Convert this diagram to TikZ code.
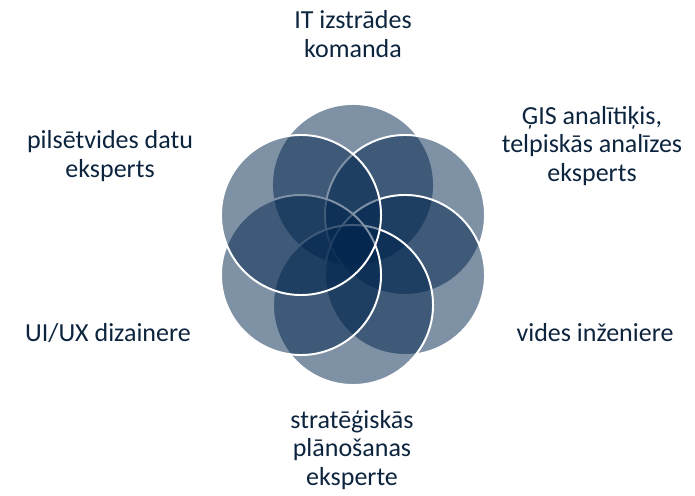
\documentclass[tikz,border=0pt]{standalone}
\usepackage{fontspec}
\setmainfont{Carlito}
\usepackage{tikz}

\definecolor{ringblue}{RGB}{0,36,76}
\definecolor{roletext}{RGB}{12,36,62}

\begin{document}
\begin{tikzpicture}[x=0.025cm,y=0.025cm,
  ring/.style={circle,minimum size=4cm,inner sep=0pt,fill=ringblue,fill opacity=0.5},
  rim/.style={ring,draw=white,line width=1.4pt},
  role/.style={text=roletext,align=center,font=\fontsize{18.5}{20.5}\selectfont}]
  \useasboundingbox (0,0) rectangle (695,495);
  \node[ring] (C-1) at (353,310) {};
  \node[rim] (C-2) at (405,280) {};
  \node[rim] (C-3) at (405,220) {};
  \node[rim] (C-4) at (353,190) {};
  \node[rim] (C-5) at (301,220) {};
  \node[rim] (C-6) at (301,280) {};
  \node[role] (R-1) at (353,461) {IT izstrādes\\komanda};
  \node[role] (R-2) at (592,349) {ĢIS analītiķis,\\telpiskās analīzes\\eksperts};
  \node[role] (R-3) at (595,162) {vides inženiere};
  \node[role] (R-4) at (352,45) {stratēģiskās\\plānošanas\\eksperte};
  \node[role] (R-5) at (108,162) {UI/UX dizainere};
  \node[role] (R-6) at (110,339) {pilsētvides datu\\eksperts};
\end{tikzpicture}
\end{document}
